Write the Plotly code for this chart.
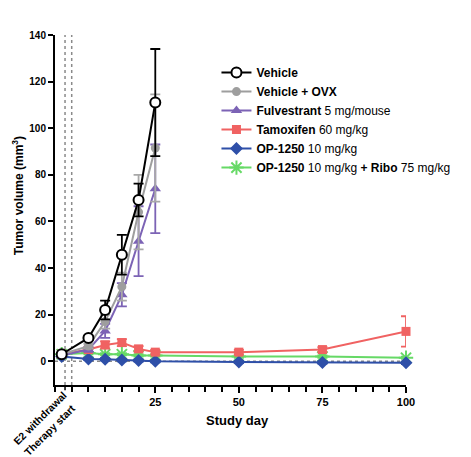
import plotly.graph_objects as go

days_short = [-3, 5, 10, 15, 20, 25]
days_long = [-3, 5, 10, 15, 20, 25, 50, 75, 100]

vehicle = [3, 10, 22, 45.7, 69.2, 111]
vehicle_err = [0.5, 1, 4, 8.5, 7, 23]
ovx = [3, 6.5, 17, 32, 64, 91.5]
ovx_err = [0.5, 1, 3, 6, 16, 23]
fulv = [2.5, 5, 13, 28.5, 51.5, 74]
fulv_err = [0.5, 1, 3, 5, 15, 19]
tamox = [3, 5, 7, 8, 5.3, 3.9, 3.9, 5, 12.8]
tamox_err = [0.5, 1, 1.5, 1.5, 1.2, 1, 1, 1, 6.5]
op = [2, 1, 0.8, 0.5, 0.3, 0, -0.3, -0.5, -0.7]
op_err = [0.5, 0.5, 0.5, 0.5, 0.5, 0.5, 0.5, 0.5, 0.5]
opribo = [3, 3.5, 3, 3, 2.5, 2.5, 2, 2, 1.5]
opribo_err = [0.5, 0.5, 0.5, 0.5, 0.5, 0.5, 0.5, 0.5, 0.5]

names = [
    "<b>Vehicle</b>",
    "<b>Vehicle + OVX</b>",
    "<b>Fulvestrant</b> 5 mg/mouse",
    "<b>Tamoxifen</b> 60 mg/kg",
    "<b>OP-1250</b> 10 mg/kg",
    "<b>OP-1250</b> 10 mg/kg <b>+ Ribo</b> 75 mg/kg",
]
y_ticks = [0, 20, 40, 60, 80, 100, 120, 140]
x_ticks = [25, 50, 75, 100]
x_ticktext = ["25", "50", "75", "100"]
event_days = [-2, 0]
event_labels = ["E2 withdrawal", "Therapy start"]

FONT = "Liberation Sans, Arial, sans-serif"

series = [
    (names[5], days_long, opribo, opribo_err, "#66D966", "#66D966", "asterisk-open", 12, None),
    (names[4], days_long, op, op_err, "#2E4FA8", "#2E4FA8", "diamond", 10, None),
    (names[3], days_long, tamox, tamox_err, "#F06262", "#F06262", "square", 9, None),
    (names[2], days_short, fulv, fulv_err, "#7C63B5", "#7C63B5", "triangle-up", 10, None),
    (names[1], days_short, ovx, ovx_err, "#9E9E9E", "#A8A8A8", "circle", 9, None),
    (names[0], days_short, vehicle, vehicle_err, "#000000", "#000000", "circle", 10, "white"),
]

fig = go.Figure()
for name, x, y, err, color, ecolor, sym, size, fill in series:
    marker = dict(symbol=sym, size=size, color=fill if fill else color,
                  line=dict(color=color, width=2 if (fill or sym == "asterisk-open") else 0))
    fig.add_trace(go.Scatter(
        x=x, y=y, name=name, mode="lines+markers",
        line=dict(color=color, width=2),
        marker=marker,
        error_y=dict(type="data", array=err, visible=True, color=ecolor, thickness=1.8, width=5),
        cliponaxis=False,
    ))

fig.update_layout(
    width=471, height=457,
    margin=dict(l=55, r=65, t=35, b=72),
    paper_bgcolor="white", plot_bgcolor="white",
    font=dict(family=FONT, color="black", size=11),
    showlegend=True,
    legend=dict(x=0.46, y=0.934, xanchor="left", yanchor="top", traceorder="reversed",
                font=dict(size=12, family=FONT, color="black"), bgcolor="rgba(0,0,0,0)"),
    xaxis=dict(range=[-5, 100], showgrid=False, zeroline=False,
               showline=True, linecolor="black", linewidth=2,
               tickmode="array", tickvals=x_ticks, ticktext=x_ticktext,
               ticks="outside", ticklen=6, tickwidth=1.5, tickcolor="black",
               tickfont=dict(size=11, weight="bold"),
               minor=dict(tickmode="linear", tick0=-5, dtick=5, ticks="outside",
                          ticklen=5, tickwidth=1.5, tickcolor="black")),
    yaxis=dict(range=[-10.2, 140], showgrid=False, zeroline=False,
               showline=True, linecolor="black", linewidth=2,
               tickmode="array", tickvals=y_ticks,
               ticks="outside", ticklen=5, tickwidth=1.5, tickcolor="black",
               tickfont=dict(size=10, weight="bold")),
)

# reference lines
for xv in event_days:
    fig.add_shape(type="line", xref="x", yref="paper", x0=xv, x1=xv, y0=0, y1=1,
                  line=dict(color="#8a8a8a", width=1.5, dash="dot"), layer="below")
fig.add_shape(type="line", xref="x", yref="paper", x0=event_days[0], x1=event_days[0],
              y0=0, y1=-0.015, line=dict(color="black", width=1.5))
fig.add_shape(type="line", xref="x", yref="y", x0=-5, x1=100, y0=0, y1=0,
              line=dict(color="#8a8a8a", width=1.5, dash="dot"), layer="below")

# rotated event labels
for lbl, px_, py_ in zip(event_labels, [-0.043, -0.016], [-0.095, -0.128]):
    fig.add_annotation(text="<b>%s</b>" % lbl, xref="paper", yref="paper", x=px_, y=py_,
                       xanchor="center", yanchor="middle", textangle=-45, showarrow=False,
                       font=dict(size=10.5))
# axis titles
fig.add_annotation(text="<b>Study day</b>", xref="paper", yref="paper", x=0.521, y=-0.1,
                   xanchor="center", yanchor="middle", showarrow=False, font=dict(size=13))
fig.add_annotation(text="<b>Tumor volume (mm<sup>3</sup>)</b>", xref="paper", yref="paper",
                   x=-0.105, y=0.54, xanchor="center", yanchor="middle", textangle=-90,
                   showarrow=False, font=dict(size=12))

fig.write_html("out.html")
